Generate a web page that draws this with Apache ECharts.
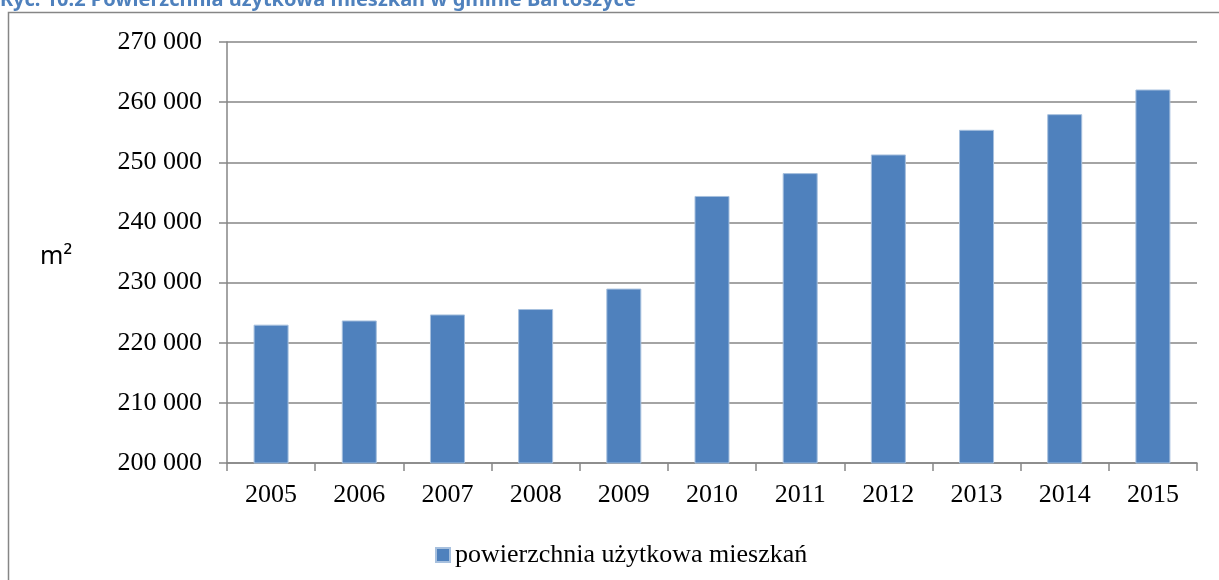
<!DOCTYPE html>
<html>
<head>
<meta charset="utf-8">
<script src="https://cdn.jsdelivr.net/npm/echarts@6/dist/echarts.min.js"></script>
<style>
  html, body { margin: 0; padding: 0; background: #fff; }
  #chart { width: 1219px; height: 580px; }
</style>
</head>
<body>
<div id="chart"></div>
<script>
// lata i powierzchnia (m2)
var years = ['2005', '2006', '2007', '2008', '2009', '2010', '2011', '2012', '2013', '2014', '2015'];
var area = [223000, 223700, 224700, 225600, 229000, 244400, 248200, 251300, 255400, 258000, 262100];
var seriesName = 'powierzchnia użytkowa mieszkań';
var yMin = 200000, yMax = 270000, yStep = 10000;

var chart = echarts.init(document.getElementById('chart'));

function fmt(v) {
  return String(v).replace(/\B(?=(\d{3})+(?!\d))/g, ' ');
}

chart.setOption({
  animation: false,
  graphic: [
    {
      type: 'rect',
      shape: { x: 8.5, y: 12.5, width: 1400, height: 800 },
      style: { fill: 'none', stroke: '#868686', lineWidth: 1.5 },
      silent: true
    },
    {
      type: 'text',
      left: 0,
      top: -10,
      style: {
        text: 'Ryc. 10.2 Powierzchnia użytkowa mieszkań w gminie Bartoszyce',
        fontFamily: 'Noto Sans',
        fontWeight: 'bold',
        fontSize: 20,
        fill: '#4F81BD'
      }
    },
    {
      type: 'text',
      left: 40,
      top: 244,
      style: {
        text: 'm²',
        fontFamily: 'Noto Sans',
        fontSize: 25,
        fill: '#000'
      }
    }
  ],
  legend: {
    data: [seriesName],
    left: 430,
    top: 537,
    itemWidth: 14,
    itemHeight: 14,
    icon: 'rect',
    textStyle: { fontFamily: 'Liberation Serif', fontSize: 26, color: '#000' }
  },
  grid: { left: 227, right: 22, top: 42, bottom: 117 },
  xAxis: {
    type: 'category',
    data: years,
    boundaryGap: true,
    axisLine: { lineStyle: { color: '#868686', width: 1.5 } },
    axisTick: { show: true, alignWithLabel: false, length: 8, lineStyle: { color: '#868686', width: 1.5 } },
    axisLabel: { fontFamily: 'Liberation Serif', fontSize: 26, color: '#000', margin: 19 }
  },
  yAxis: {
    type: 'value',
    min: yMin,
    max: yMax,
    interval: yStep,
    axisLine: { show: true, lineStyle: { color: '#868686', width: 1.5 } },
    axisTick: { show: true, length: 8, lineStyle: { color: '#868686', width: 1.5 } },
    splitLine: { lineStyle: { color: '#868686', width: 1.5 } },
    axisLabel: {
      fontFamily: 'Liberation Serif', fontSize: 26, color: '#000', margin: 25,
      formatter: fmt
    }
  },
  series: [{
    name: seriesName,
    type: 'bar',
    data: area,
    barWidth: 35,
    itemStyle: { color: '#4F81BD', borderColor: '#A7C0DE', borderWidth: 1 }
  }]
});
</script>
</body>
</html>
